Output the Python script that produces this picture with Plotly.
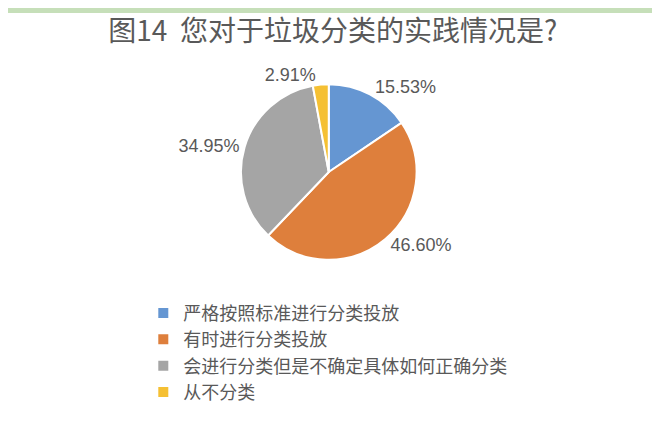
import plotly.graph_objects as go

categories = ["严格按照标准进行分类投放", "有时进行分类投放", "会进行分类但是不确定具体如何正确分类", "从不分类"]
shares = [15.53, 46.60, 34.95, 2.91]
colors = ["#6596d2", "#de7f3c", "#a5a5a5", "#f5c033"]

fig = go.Figure(go.Pie(
    labels=categories,
    values=shares,
    sort=False,
    direction="clockwise",
    rotation=0,
    marker=dict(colors=colors, line=dict(color="white", width=2)),
    texttemplate="%{value:.2f}%",
    textposition="outside",
    textfont=dict(family="Liberation Sans, Arial", size=18, color="#595959"),
    domain=dict(x=[0.353, 0.619], y=[0.408, 0.822]),
    hoverinfo="label+value",
))

fig.update_layout(
    width=660, height=426,
    margin=dict(l=0, r=0, t=0, b=0),
    paper_bgcolor="white",
    title=dict(text="图14  您对于垃圾分类的实践情况是?", x=0.492, xanchor="center",
               y=1 - 23 / 426, yanchor="middle",
               font=dict(family="Noto Sans CJK SC", size=28, color="#595959")),
    legend=dict(x=0.205, xanchor="left", y=0.327, yanchor="top",
                font=dict(family="Noto Sans CJK SC", size=18, color="#595959"),
                bgcolor="rgba(0,0,0,0)"),
    shapes=[
        dict(type="rect", xref="paper", yref="paper", x0=0, x1=1, y0=1 - 5 / 426, y1=1,
             fillcolor="#c6dfb9", line=dict(width=0), layer="below"),
        dict(type="rect", xref="paper", yref="paper", x0=0, x1=1, y0=0, y1=2 / 426,
             fillcolor="#d6e8cc", line=dict(width=0), layer="below"),
    ],
)

fig.write_html("out.html")
